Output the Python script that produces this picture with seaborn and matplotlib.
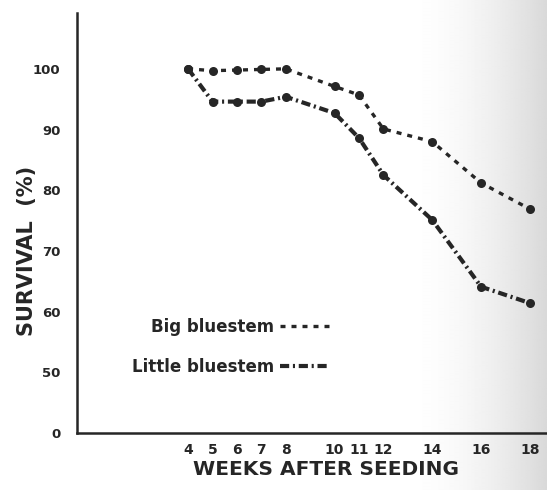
import numpy as np
import pandas as pd
import seaborn as sns
import matplotlib.pyplot as plt
from matplotlib.lines import Line2D

# Survival of seedlings over the weeks following seeding
weeks = [4, 5, 6, 7, 8, 10, 11, 12, 14, 16, 18]
big_bluestem = [100.0, 99.7, 99.8, 99.9, 100.0, 97.1, 95.7, 90.1, 88.0, 81.2, 76.9]
little_bluestem = [100.0, 94.6, 94.6, 94.6, 95.4, 92.7, 88.6, 82.5, 75.1, 64.1, 61.4]
species_names = ["Big bluestem", "Little bluestem"]

x_ticks = [4, 5, 6, 7, 8, 10, 11, 12, 14, 16, 18]
# the survival axis is broken below 50: the "0" tick sits one step under 50
y_tick_pos = [40, 50, 60, 70, 80, 90, 100]
y_tick_labels = ["0", "50", "60", "70", "80", "90", "100"]

df = pd.DataFrame({
    "week": weeks * 2,
    "survival": big_bluestem + little_bluestem,
    "species": [species_names[0]] * len(weeks) + [species_names[1]] * len(weeks),
})

sns.set_theme(style="white")
plt.rcParams["font.family"] = ["DejaVu Sans"]

ink = "#262626"
W, H = 547, 490
fig = plt.figure(figsize=(W / 100, H / 100), dpi=100)
fig.patch.set_facecolor("white")

# paper shading that darkens toward the right edge
bg = fig.add_axes([0, 0, 1, 1], zorder=-5)
xs = np.linspace(0, 1, W)
shade = np.clip((xs - 0.74) / 0.26, 0, 1) ** 1.8
row = 1.0 - 0.15 * shade
bg.imshow(np.tile(row, (20, 1)), cmap="gray", vmin=0, vmax=1, aspect="auto",
          extent=[0, 1, 0, 1], interpolation="bilinear")
bg.axis("off")

ax = fig.add_axes([77 / W, 1 - 433 / H, 1 - 77 / W, (433 - 13) / H])
ax.patch.set_alpha(0)

styles = {
    "Big bluestem": dict(lw=2.4, linestyle=(0, (1.5, 1.8)), ms=6.5),
    "Little bluestem": dict(lw=3.0, linestyle=(0, (2.2, 0.9, 0.5, 0.9)), ms=6.5),
}

for name in species_names:
    st = styles[name]
    sns.lineplot(data=df[df["species"] == name], x="week", y="survival", ax=ax,
                 color=ink, lw=st["lw"], linestyle=st["linestyle"],
                 marker="o", markersize=st["ms"], markeredgewidth=0,
                 legend=False, errorbar=None)

ax.set_xlim(-0.55, 18.7)
ax.set_ylim(40, 109.2)
ax.set_xticks(x_ticks)
ax.set_xticklabels([str(t) for t in x_ticks])
ax.set_yticks(y_tick_pos)
ax.set_yticklabels(y_tick_labels)

for s in ["top", "right"]:
    ax.spines[s].set_visible(False)
for s in ["left", "bottom"]:
    ax.spines[s].set_linewidth(1.8)
    ax.spines[s].set_color(ink)

ax.tick_params(axis="y", direction="inout", length=8.6, width=1.5, color=ink,
               pad=7.5, labelsize=9.5, labelcolor=ink)
ax.tick_params(axis="x", direction="inout", length=7, width=1.5, color=ink,
               pad=3.8, labelsize=10, labelcolor=ink)
for lab in ax.get_xticklabels() + ax.get_yticklabels():
    lab.set_fontweight("bold")

ax.set_xlabel("")
ax.set_ylabel("")
fig.text(326 / W, 1 - 469 / H, "WEEKS AFTER SEEDING", ha="center", va="center",
         fontsize=14.5, fontweight="bold", color=ink)
fig.text(27 / W, 1 - 251 / H, "SURVIVAL  (%)", ha="center", va="center",
         rotation=90, fontsize=15, fontweight="bold", color=ink)

handles = [Line2D([], [], color=ink, lw=styles[n]["lw"], linestyle=styles[n]["linestyle"])
           for n in species_names]
ax.legend(handles, species_names, markerfirst=False, frameon=False, loc="center",
          bbox_to_anchor=(231 / W, 1 - 347 / H), bbox_transform=fig.transFigure,
          prop={"weight": "bold", "size": 12}, labelcolor=ink,
          handlelength=3.0, handletextpad=0.4, labelspacing=1.35, borderpad=0)

fig.savefig("out.png", dpi=100, facecolor=fig.get_facecolor())
